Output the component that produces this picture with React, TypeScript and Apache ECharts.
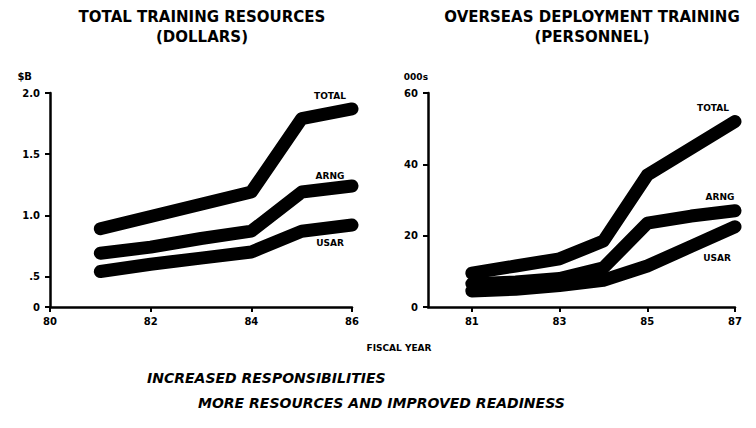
import React, { useEffect, useRef } from "react";
import * as echarts from "echarts";

// ---- Left chart: Total training resources (dollars, $B) ----
const leftYears = [81, 82, 83, 84, 85, 86];
const leftTotal = [0.89, 0.99, 1.09, 1.19, 1.79, 1.87];
const leftArng = [0.69, 0.74, 0.81, 0.87, 1.19, 1.24];
const leftUsar = [0.54, 0.6, 0.65, 0.7, 0.87, 0.92];
const leftXTicks = [80, 82, 84, 86];
const leftYTicks = [0.25, 0.5, 1.0, 1.5, 2.0];
const leftYTickLabels = ["0", ".5", "1.0", "1.5", "2.0"];

// ---- Right chart: Overseas deployment training (personnel, 000s) ----
const rightYears = [81, 82, 83, 84, 85, 86, 87];
const rightTotal = [9.5, 11.5, 13.5, 18.5, 37, 44.5, 52];
const rightArng = [6.5, 7, 8, 11, 23.5, 25.5, 27];
const rightUsar = [4.5, 5, 6, 7.5, 11.5, 17, 22.5];
const rightXTicks = [81, 83, 85, 87];

const seriesNames = ["TOTAL", "ARNG", "USAR"];

const FONT = "DejaVu Sans";

function buildData(
  years: number[],
  values: number[],
  name: string,
  position: string,
  offset: number[]
) {
  return years.map((y, i) => {
    if (i === years.length - 1) {
      return {
        value: [y, values[i]],
        label: {
          show: true,
          formatter: name,
          position,
          offset,
          color: "#000",
          fontFamily: FONT,
          fontWeight: 900,
          fontSize: 9,
        },
      };
    }
    return { value: [y, values[i]] };
  });
}

const axisLineStyle = { color: "#000", width: 2.5 };
const axisLabelStyle = {
  color: "#000",
  fontFamily: FONT,
  fontWeight: 900 as any,
  fontSize: 10,
};

export default function App() {
  const ref = useRef<HTMLDivElement>(null);

  useEffect(() => {
    if (!ref.current) return;
    const chart = echarts.init(ref.current, null, { renderer: "svg" });

    const lineStyle = { color: "#000", width: 13, cap: "round", join: "round" };
    const mkSeries = (
      name: string,
      years: number[],
      vals: number[],
      idx: number,
      pos: string,
      off: number[]
    ) => ({
      type: "line",
      name,
      xAxisIndex: idx,
      yAxisIndex: idx,
      showSymbol: true,
      symbol: "circle",
      symbolSize: 1,
      itemStyle: { color: "rgba(0,0,0,0)" },
      lineStyle,
      data: buildData(years, vals, name, pos, off),
      z: 3,
    });

    const option: any = {
      animation: false,
      backgroundColor: "#fff",
      grid: [
        { left: 50, top: 93, width: 302, height: 214, containLabel: false },
        { left: 428, top: 93, width: 307, height: 214, containLabel: false },
      ],
      xAxis: [
        {
          type: "value",
          gridIndex: 0,
          min: 80,
          max: 86,
          interval: 2,
          splitLine: { show: false },
          axisLine: { show: true, lineStyle: axisLineStyle },
          axisTick: { show: true, length: 5, lineStyle: { color: "#000", width: 2 } },
          axisLabel: {
            ...axisLabelStyle,
            margin: 9,
            formatter: (v: number) => (leftXTicks.includes(v) ? String(v) : ""),
          },
        },
        {
          type: "value",
          gridIndex: 1,
          min: 80,
          max: 87,
          splitLine: { show: false },
          axisLine: { show: true, lineStyle: axisLineStyle },
          axisTick: {
            show: true,
            length: 5,
            customValues: rightXTicks,
            lineStyle: { color: "#000", width: 2 },
          },
          axisLabel: {
            ...axisLabelStyle,
            margin: 9,
            customValues: rightXTicks,
            formatter: (v: number) => String(v),
          },
        },
      ],
      yAxis: [
        {
          type: "value",
          gridIndex: 0,
          min: 0.25,
          max: 2.0,
          interval: 0.25,
          name: "$B",
          nameLocation: "end",
          nameGap: 12,
          nameTextStyle: { ...axisLabelStyle, align: "right", padding: [0, 18, 0, 0] },
          splitLine: { show: false },
          axisLine: { show: true, lineStyle: axisLineStyle },
          axisTick: {
            show: true,
            length: 5,
            customValues: leftYTicks,
            lineStyle: { color: "#000", width: 2 },
          },
          axisLabel: {
            ...axisLabelStyle,
            margin: 10,
            customValues: leftYTicks,
            formatter: (v: number) => {
              const i = leftYTicks.findIndex((t) => Math.abs(t - v) < 1e-6);
              return i >= 0 ? leftYTickLabels[i] : "";
            },
          },
        },
        {
          type: "value",
          gridIndex: 1,
          min: 0,
          max: 60,
          interval: 20,
          name: "000s",
          nameLocation: "end",
          nameGap: 12,
          nameTextStyle: { ...axisLabelStyle, fontSize: 9, align: "right", padding: [0, 0, 0, 0] },
          splitLine: { show: false },
          axisLine: { show: true, lineStyle: axisLineStyle },
          axisTick: { show: true, length: 5, lineStyle: { color: "#000", width: 2 } },
          axisLabel: { ...axisLabelStyle, margin: 10 },
        },
      ],
      series: [
        mkSeries(seriesNames[2], leftYears, leftUsar, 0, "bottom", [-22, 8]),
        mkSeries(seriesNames[1], leftYears, leftArng, 0, "top", [-22, 0]),
        mkSeries(seriesNames[0], leftYears, leftTotal, 0, "top", [-22, -3]),
        mkSeries(seriesNames[2], rightYears, rightUsar, 1, "bottom", [-18, 21]),
        mkSeries(seriesNames[1], rightYears, rightArng, 1, "top", [-15, -4]),
        mkSeries(seriesNames[0], rightYears, rightTotal, 1, "top", [-22, -4]),
      ],
      graphic: [
        {
          type: "text",
          x: 202,
          y: 27,
          style: {
            text: "TOTAL TRAINING RESOURCES\n(DOLLARS)",
            align: "center",
            verticalAlign: "middle",
            fill: "#000",
            font: `900 15px "${FONT}"`,
            lineHeight: 20,
          },
        },
        {
          type: "text",
          x: 592,
          y: 27,
          style: {
            text: "OVERSEAS DEPLOYMENT TRAINING\n(PERSONNEL)",
            align: "center",
            verticalAlign: "middle",
            fill: "#000",
            font: `900 15px "${FONT}"`,
            lineHeight: 20,
          },
        },
        {
          type: "text",
          x: 399,
          y: 348,
          style: {
            text: "FISCAL YEAR",
            align: "center",
            verticalAlign: "middle",
            fill: "#000",
            font: `900 9px "${FONT}"`,
          },
        },
        {
          type: "text",
          x: 147,
          y: 378,
          style: {
            text: "INCREASED RESPONSIBILITIES",
            align: "left",
            verticalAlign: "middle",
            fill: "#000",
            font: `italic 900 14px "${FONT}"`,
          },
        },
        {
          type: "text",
          x: 198,
          y: 403,
          style: {
            text: "MORE RESOURCES AND IMPROVED READINESS",
            align: "left",
            verticalAlign: "middle",
            fill: "#000",
            font: `italic 900 14px "${FONT}"`,
          },
        },
      ],
    };

    chart.setOption(option);
    return () => chart.dispose();
  }, []);

  return (
    <div
      ref={ref}
      style={{ position: "fixed", left: 0, top: 0, width: 756, height: 428, background: "#fff" }}
    />
  );
}
